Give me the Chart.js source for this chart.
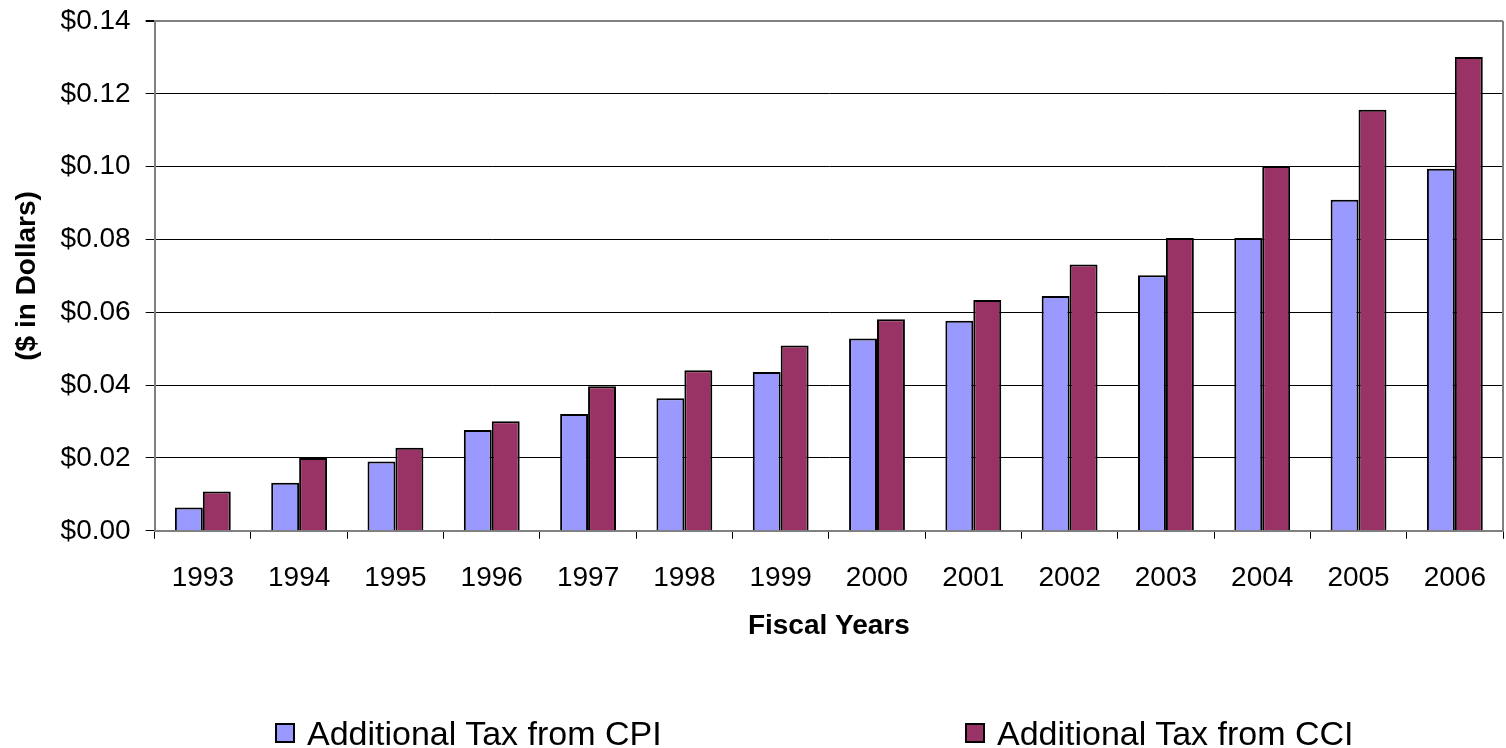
<!DOCTYPE html>
<html>
<head>
<meta charset="utf-8">
<script src="https://cdn.jsdelivr.net/npm/chart.js@4/dist/chart.umd.min.js"></script>
<style>
  html, body { margin: 0; padding: 0; background: #fff; }
  #wrap { position: relative; width: 1506px; height: 748px; }
  #graf { display: block; }
  #legenda {
    position: absolute; left: 275px; top: 713px;
    display: grid; grid-template-columns: 690px 420px;
    font-family: "Liberation Sans", Arial, sans-serif; font-size: 34px; color: #000;
  }
  .polozka { display: flex; align-items: center; height: 40px; white-space: nowrap; }
  .ctverec { width: 16px; height: 16px; border: 2px solid #000; margin-right: 12px; }
</style>
</head>
<body>
<div id="wrap">
  <canvas id="graf" width="1506" height="748"></canvas>
  <div id="legenda"></div>
</div>
<script>
// --- DATA ---
const roky = ['1993', '1994', '1995', '1996', '1997', '1998', '1999', '2000', '2001', '2002', '2003', '2004', '2005', '2006'];
const danCPI = [0.0064, 0.0132, 0.0190, 0.0277, 0.0321, 0.0364, 0.0436, 0.0528, 0.0577, 0.0645, 0.0702, 0.0804, 0.0909, 0.0994];
const danCCI = [0.0108, 0.0200, 0.0228, 0.0301, 0.0397, 0.0441, 0.0509, 0.0581, 0.0634, 0.0731, 0.0804, 0.1002, 0.1156, 0.1301];
const nazvyRad = ['Additional Tax from CPI', 'Additional Tax from CCI'];
const barvyRad = ['#9999FF', '#993366'];
const osaY = { min: 0, max: 0.14, krok: 0.02 };

const pismo = 'Liberation Sans, Arial, sans-serif';

// pravý okraj plochy grafu
const ramecek = {
    id: 'ramecek',
    afterDraw(chart) {
        const { ctx, chartArea } = chart;
        ctx.save();
        ctx.strokeStyle = '#808080';
        ctx.lineWidth = 2;
        ctx.beginPath();
        ctx.moveTo(chartArea.right, chartArea.top);
        ctx.lineTo(chartArea.right, chartArea.bottom);
        ctx.stroke();
        ctx.restore();
    }
};

const jeHorni = ctx => ctx.tick && Math.abs(ctx.tick.value - osaY.max) < 1e-9;

const mujGraf = new Chart(document.getElementById('graf'), {
    type: 'bar',
    data: {
        labels: roky,
        datasets: [danCPI, danCCI].map((hodnoty, i) => ({
            label: nazvyRad[i],
            data: hodnoty,
            backgroundColor: barvyRad[i],
            borderColor: '#000',
            borderWidth: 2,
            categoryPercentage: 0.58,
            barPercentage: 1.0
        }))
    },
    options: {
        responsive: false,
        animation: false,
        layout: { padding: { top: 0, right: 3, left: 0, bottom: 105 } },
        plugins: {
            legend: { display: false },
            tooltip: { enabled: false }
        },
        scales: {
            x: {
                grid: { drawOnChartArea: false, tickLength: 8, tickColor: '#000', offset: true },
                border: { color: '#808080', width: 2 },
                ticks: { color: '#000', padding: 16, font: { family: pismo, size: 28, lineHeight: 1.7 } },
                title: {
                    display: true, text: 'Fiscal Years', color: '#000',
                    font: { family: pismo, size: 28, weight: 'bold' },
                    padding: { top: -9, bottom: 0 }
                }
            },
            y: {
                min: osaY.min,
                max: osaY.max,
                grid: {
                    color: ctx => jeHorni(ctx) ? '#808080' : '#000',
                    lineWidth: ctx => jeHorni(ctx) ? 2 : 1,
                    tickLength: 9,
                    tickColor: '#000'
                },
                border: { color: '#808080', width: 2 },
                ticks: {
                    stepSize: osaY.krok,
                    color: '#000',
                    padding: 15,
                    font: { family: pismo, size: 28, lineHeight: 0.43 },
                    callback: v => '$' + v.toFixed(2)
                },
                title: {
                    display: true, text: '($ in Dollars)', color: '#000',
                    font: { family: pismo, size: 28, weight: 'bold' },
                    padding: { top: 10, bottom: 2 }
                }
            }
        }
    },
    plugins: [ramecek]
});

// --- LEGENDA ---
const legenda = document.getElementById('legenda');
mujGraf.data.datasets.forEach(ds => {
    legenda.insertAdjacentHTML('beforeend',
        `<div class="polozka"><span class="ctverec" style="background:${ds.backgroundColor}"></span>${ds.label}</div>`);
});
</script>
</body>
</html>
